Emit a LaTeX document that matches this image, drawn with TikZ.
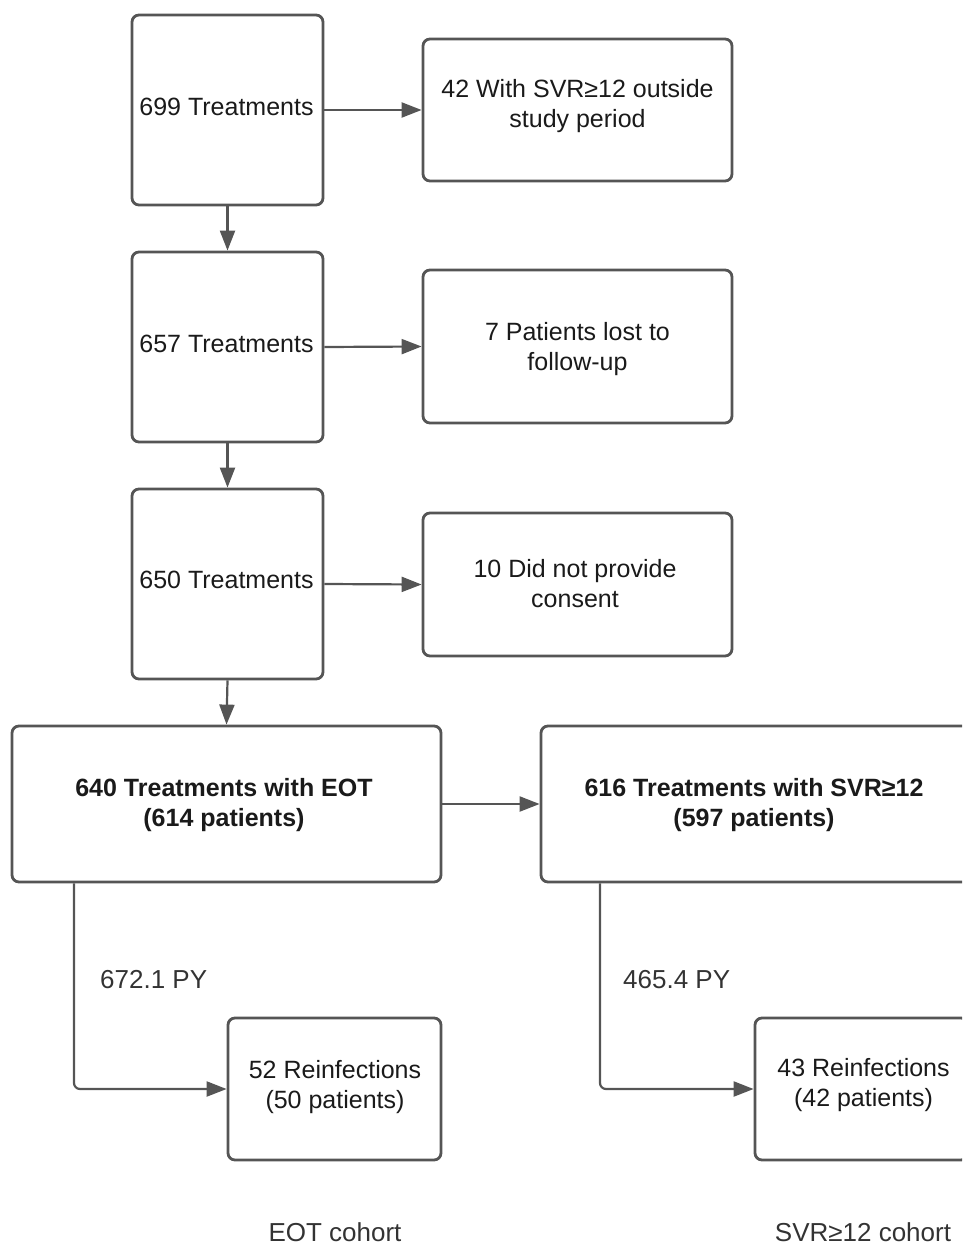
\documentclass[tikz,border=0pt]{standalone}
\usepackage{fontspec}
\setmainfont{Liberation Sans}
\usetikzlibrary{arrows.meta}
\definecolor{linec}{HTML}{555555}
\definecolor{textc}{HTML}{1A1A1A}
\definecolor{labc}{HTML}{333333}
\begin{document}
\begin{tikzpicture}[x=1pt,y=-1pt,
  box/.style={draw=linec, line width=2.8pt, rounded corners=7pt, fill=white, inner sep=0pt},
  txt/.style={align=center, font=\fontsize{25}{30}\selectfont, text=textc, inner sep=0pt},
  btxt/.style={txt, font=\fontsize{25}{30}\selectfont\bfseries},
  conn/.style={draw=linec, line width=2.2pt, -{Triangle[length=20pt,width=15pt]}},
  lab/.style={font=\fontsize{26}{30}\selectfont, text=labc, inner sep=0pt}]
\useasboundingbox (0,0) rectangle (962,1246);
\clip (0,0) rectangle (962,1246);
\node[box, minimum width=191pt, minimum height=190pt] (b1) at (227.5,110) {};
\node[box, minimum width=309pt, minimum height=142pt] (r1) at (577.5,110) {};
\node[box, minimum width=191pt, minimum height=190pt] (b2) at (227.5,347) {};
\node[box, minimum width=309pt, minimum height=153pt] (r2) at (577.5,346.5) {};
\node[box, minimum width=191pt, minimum height=190pt] (b3) at (227.5,584) {};
\node[box, minimum width=309pt, minimum height=143pt] (r3) at (577.5,584.5) {};
\node[box, minimum width=429pt, minimum height=156pt] (b4) at (226.5,804) {};
\node[box, minimum width=429pt, minimum height=156pt] (b5) at (755.5,804) {};
\node[box, minimum width=213pt, minimum height=142pt] (b6) at (334.5,1089) {};
\node[box, minimum width=213pt, minimum height=142pt] (b7) at (861.5,1089) {};
\node[txt] (t1) at (226.5,107) {699 Treatments};
\node[txt] (tr1) at (577.5,106.5) {42 With SVR≥12 outside\\study period};
\node[txt] (t2) at (226.5,344) {657 Treatments};
\node[txt] (tr2) at (577.5,349.5) {7 Patients lost to\\follow-up};
\node[txt] (t3) at (226.5,580) {650 Treatments};
\node[txt] (tr3) at (575,583.5) {10 Did not provide\\consent};
\node[btxt] (t4) at (224,805) {640 Treatments with EOT\\(614 patients)};
\node[btxt] (t5) at (754,805) {616 Treatments with SVR≥12\\(597 patients)};
\node[txt] (t6) at (335,1087.5) {52 Reinfections\\(50 patients)};
\node[txt] (t7) at (863.5,1085.5) {43 Reinfections\\(42 patients)};
\node[lab, anchor=west] (py1) at (100,980) {672.1 PY};
\node[lab, anchor=west] (py2) at (623,980) {465.4 PY};
\node[lab] (c1) at (335,1232) {EOT cohort};
\node[lab] (c2) at (863,1232) {SVR≥12 cohort};
\draw[conn] (b1.east) -- (r1.west);
\draw[conn] (b2.east) -- (r2.west);
\draw[conn] (b3.east) -- (r3.west);
\draw[conn] (b1.south) -- (b2.north);
\draw[conn] (b2.south) -- (b3.north);
\draw[conn] (b3.south) -- (b4.north);
\draw[conn] (b4.east) -- (b5.west);
\draw[conn, rounded corners=6pt] ([xshift=-152.5pt]b4.south) |- (b6.west);
\draw[conn, rounded corners=6pt] ([xshift=-155.5pt]b5.south) |- (b7.west);
\end{tikzpicture}
\end{document}
